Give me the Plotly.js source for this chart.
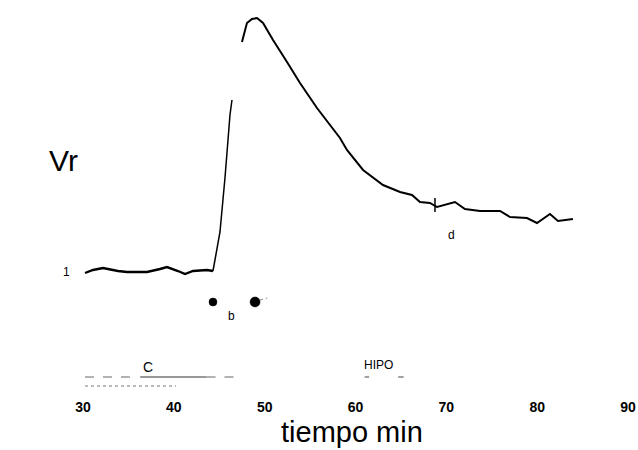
<!DOCTYPE html>
<html>
<head>
<meta charset="utf-8">
<script src="https://cdn.plot.ly/plotly-3.0.1.min.js"></script>
<style>html,body{margin:0;padding:0;background:#fff}#chart{width:638px;height:450px}</style>
</head>
<body>
<div id="chart"></div>
<script>
// Vr curve (time in min, relative value): baseline
const baseT = [30.22, 31.10, 32.20, 33.85, 34.84, 37.05, 38.48, 39.25, 40.46, 41.23, 42.11, 43.65, 44.31];
const baseV = [0.97, 1.00, 1.02, 0.99, 0.98, 0.98, 1.01, 1.03, 0.99, 0.96, 0.99, 1.00, 0.99];
// rise
const riseT = [44.31, 44.55, 45.08, 45.63, 46.18, 46.40];
const riseV = [0.99, 1.12, 1.38, 1.92, 2.55, 2.70];
// peak and decay
const peakT = [47.50, 47.83, 48.05, 48.61, 49.16, 49.82, 50.92, 52.46, 53.89, 55.76, 57.19, 58.29, 59.06, 60.83, 63.03, 64.90, 66.22, 67.10, 68.20, 68.97, 70.95, 72.05, 73.71, 75.91, 77.01, 78.88, 79.98, 81.41, 82.29, 83.94];
const peakV = [3.28, 3.40, 3.47, 3.51, 3.52, 3.47, 3.30, 3.08, 2.87, 2.62, 2.45, 2.32, 2.20, 2.00, 1.85, 1.78, 1.75, 1.68, 1.67, 1.63, 1.68, 1.61, 1.59, 1.59, 1.53, 1.52, 1.47, 1.56, 1.49, 1.51];
// marker "d" tick
const dTickT = [68.75, 68.75];
const dTickV = [1.72, 1.58];
// event dots (b)
const dotT = [44.31, 48.94];
const dotV = [0.68, 0.68];
const dotSize = [8, 10];
// faint trail after second dot
const trailT = [49.5, 50.3];
const trailV = [0.70, 0.72];
// period bars
const cDashT = [30.22, 36.0, null, 43.6, 47.2];
const cDashV = [-0.07, -0.07, null, -0.07, -0.07];
const cSolidT = [36.3, 43.6];
const cSolidV = [-0.07, -0.07];
const cBar2T = [30.22, 40.24];
const cBar2V = [-0.16, -0.16];
const hipoMarksT = [61.0, 61.5, null, 64.7, 65.3];
const hipoMarksV = [-0.07, -0.07, null, -0.07, -0.07];
// ticks
const xTicks = [30, 40, 50, 60, 70, 80, 90];
// labels in data coordinates
const labels = [
  {t: 46.40, v: 0.54, text: 'b', size: 12},
  {t: 70.62, v: 1.35, text: 'd', size: 12},
  {t: 37.16, v: 0.03, text: 'C', size: 14},
  {t: 62.48, v: 0.05, text: 'HIPO', size: 12}
];
// labels in paper coordinates (outside the axes)
const outerLabels = [
  {px: -0.0294, py: 0.323, text: '1', size: 12},
  {px: -0.0349, py: 0.612, text: 'Vr', size: 30},
  {px: 0.4936, py: -0.0904, text: 'tiempo min', size: 29}
];

const traces = [
  {x: baseT, y: baseV, mode: 'lines', line: {color: '#000', width: 2.4}, hoverinfo: 'skip'},
  {x: riseT, y: riseV, mode: 'lines', line: {color: '#000', width: 1.5}, hoverinfo: 'skip'},
  {x: peakT, y: peakV, mode: 'lines', line: {color: '#000', width: 2}, hoverinfo: 'skip'},
  {x: dTickT, y: dTickV, mode: 'lines', line: {color: '#000', width: 1.5}, hoverinfo: 'skip'},
  {x: dotT, y: dotV, mode: 'markers', marker: {color: '#000', size: dotSize, opacity: 1, line: {color: '#000', width: 0.5}}, hoverinfo: 'skip'},
  {x: trailT, y: trailV, mode: 'lines', line: {color: '#888', width: 1, dash: 'dot'}, hoverinfo: 'skip'},
  {x: cDashT, y: cDashV, mode: 'lines', line: {color: '#666', width: 1, dash: 'dash'}, hoverinfo: 'skip'},
  {x: cSolidT, y: cSolidV, mode: 'lines', line: {color: '#333', width: 1}, hoverinfo: 'skip'},
  {x: cBar2T, y: cBar2V, mode: 'lines', line: {color: '#777', width: 1, dash: 'dot'}, hoverinfo: 'skip'},
  {x: hipoMarksT, y: hipoMarksV, mode: 'lines', line: {color: '#444', width: 1}, hoverinfo: 'skip'}
];

const layout = {
  width: 638, height: 450,
  margin: {l: 83, r: 10, t: 10, b: 53},
  paper_bgcolor: '#fff', plot_bgcolor: '#fff',
  showlegend: false,
  font: {family: 'Liberation Sans, Arial, sans-serif', color: '#000'},
  xaxis: {
    range: [30, 90], tickvals: xTicks, ticktext: xTicks.map(String),
    showgrid: false, zeroline: false, showline: false, ticks: '',
    tickfont: {size: 14, family: 'Liberation Sans, Arial', color: '#000', weight: 'bold'},
    title: {text: ''}
  },
  yaxis: {range: [-0.27, 3.6], visible: false},
  annotations: labels.map(l => ({
    x: l.t, y: l.v, xref: 'x', yref: 'y', text: l.text, showarrow: false,
    xanchor: 'center', yanchor: 'middle',
    font: {size: l.size, color: '#000'}
  })).concat(outerLabels.map(l => ({
    x: l.px, y: l.py, xref: 'paper', yref: 'paper', text: l.text, showarrow: false,
    xanchor: 'center', yanchor: 'middle',
    font: {size: l.size, color: '#000'}
  })))
};

Plotly.newPlot('chart', traces, layout, {staticPlot: true, displayModeBar: false});
</script>
</body>
</html>
